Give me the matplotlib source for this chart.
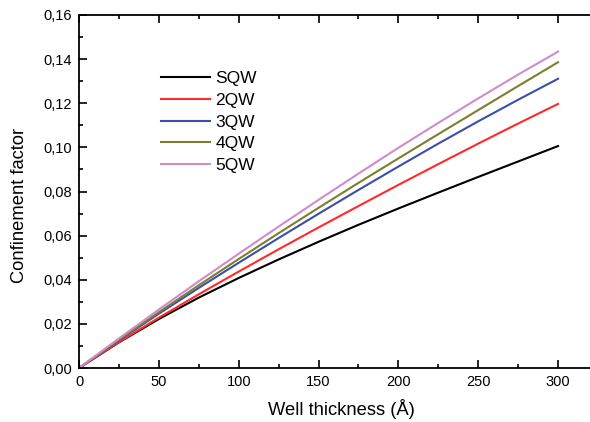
import matplotlib

matplotlib.use("Agg")

import matplotlib.pyplot as plt
from matplotlib.ticker import FuncFormatter, MultipleLocator

thickness = [0, 25, 50, 75, 100, 125, 150, 175, 200, 225, 250, 275, 300]
sqw = [0, 0.0116, 0.0222, 0.0319, 0.0408, 0.0492, 0.0572, 0.0649, 0.0723, 0.0795, 0.0866, 0.0936, 0.1006]
qw2 = [0, 0.0117, 0.0228, 0.0334, 0.0437, 0.0538, 0.0637, 0.0734, 0.0830, 0.0924, 0.1017, 0.1108, 0.1197]
qw3 = [0, 0.0125, 0.0246, 0.0363, 0.0477, 0.0589, 0.0699, 0.0807, 0.0913, 0.1017, 0.1118, 0.1216, 0.1311]
qw4 = [0, 0.0128, 0.0253, 0.0375, 0.0494, 0.0611, 0.0726, 0.0839, 0.0950, 0.1060, 0.1169, 0.1278, 0.1386]
qw5 = [0, 0.0134, 0.0265, 0.0393, 0.0518, 0.0641, 0.0762, 0.0881, 0.0998, 0.1111, 0.1222, 0.1330, 0.1434]

series = [
    ("SQW", sqw, "#000000"),
    ("2QW", qw2, "#ff2a2a"),
    ("3QW", qw3, "#3a4fa8"),
    ("4QW", qw4, "#7d7d32"),
    ("5QW", qw5, "#d08cc8"),
]

plt.rcParams["font.family"] = ["Liberation Sans", "DejaVu Sans"]

fig = plt.figure(figsize=(5.9, 4.22), dpi=100)
ax = fig.add_axes([79 / 590, 1 - 368 / 422, 1 - 79 / 590, (368 - 15) / 422])

for label, values, color in series:
    ax.plot(thickness, values, color=color, linewidth=1.5, label=label)

ax.set_xlim(0, 320)
ax.set_ylim(0, 0.16)
ax.xaxis.set_major_locator(MultipleLocator(50))
ax.xaxis.set_minor_locator(MultipleLocator(25))
ax.yaxis.set_major_locator(MultipleLocator(0.02))
ax.yaxis.set_minor_locator(MultipleLocator(0.01))
ax.yaxis.set_major_formatter(FuncFormatter(lambda v, _: f"{v:.2f}".replace(".", ",")))

ax.spines["right"].set_visible(False)
for side in ("top", "bottom", "left"):
    ax.spines[side].set_linewidth(1.3)
ax.tick_params(which="both", direction="in", top=True, right=False, width=1.2, labelsize=10.5)
ax.tick_params(which="major", length=6, pad=5)
ax.tick_params(which="minor", length=3)

ax.set_xlabel("Well thickness (Å)", fontsize=13.2)
ax.set_ylabel("Confinement factor", fontsize=13.2)
ax.xaxis.set_label_coords((341 - 79) / 511, -(399 - 368) / 353)
ax.yaxis.set_label_coords(-(79 - 28) / 511, (368 - 205) / 353)

ax.legend(
    loc="upper left",
    bbox_to_anchor=(161 / 590, 1 - 71 / 422),
    bbox_transform=fig.transFigure,
    frameon=False,
    borderpad=0,
    borderaxespad=0,
    handlelength=2.82,
    handletextpad=0.3,
    labelspacing=0.38,
    fontsize=12.5,
)

fig.savefig("out.png", dpi=100)
plt.close(fig)
